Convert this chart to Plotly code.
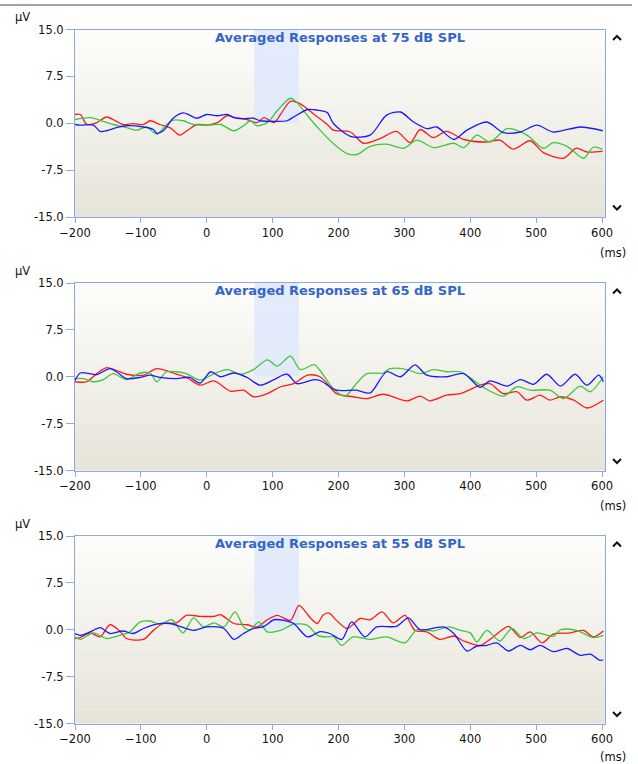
import plotly.graph_objects as go

# ---------------- data (time in ms, amplitude in µV) ----------------
LEVELS = ["75", "65", "55"]
TITLES = ["Averaged Responses at 75 dB SPL", "Averaged Responses at 65 dB SPL", "Averaged Responses at 55 dB SPL"]
X_TICKS = [-200, -100, 0, 100, 200, 300, 400, 500, 600]
Y_TICKS = [15.0, 7.5, 0.0, -7.5, -15.0]
Y_TICK_TEXT = ["15.0", "7.5", "0.0", "-7.5", "-15.0"]
WINDOW = [72, 140]

# 75 dB
T75_BLUE = [-200, -192, -172, -162, -152, -137, -122, -96, -81, -76, -66, -51, -36, -26, -15, 0, 16, 31, 41, 56, 71, 81, 102, 122, 132, 153, 168, 183, 192, 218, 248, 273, 294, 314, 334, 349, 375, 395, 425, 450, 476, 501, 526, 567, 601]
V75_BLUE = [-0.2, -0.3, -0.3, -1.3, -1.2, -0.7, -0.4, -0.6, -1.0, -1.6, -1.2, 0.8, 1.65, 1.3, 0.8, 1.4, 1.2, 1.4, 0.9, 0.75, 0.8, 0.4, 0.3, 0.4, 1.0, 2.2, 2.1, 1.7, 0.0, -2.1, -1.9, 1.3, 1.8, 0.2, -0.85, -0.6, -2.6, -1.1, 0.2, -1.5, -1.4, -0.3, -1.4, -0.6, -1.2]
T75_RED = [-200, -192, -182, -167, -152, -137, -127, -112, -96, -86, -71, -56, -41, -30, -15, 0, 16, 31, 46, 61, 76, 87, 102, 112, 127, 142, 163, 183, 192, 218, 238, 263, 288, 309, 324, 344, 364, 390, 425, 445, 465, 491, 511, 541, 561, 577, 601]
V75_RED = [1.4, 1.4, -0.2, 0.1, 1.0, 0.3, -0.2, -0.05, -0.2, 0.4, -0.2, -0.7, -1.9, -1.2, -0.2, -0.3, 0.1, 1.2, 0.8, 0.6, 0.1, 0.9, 0.1, 1.4, 3.5, 3.1, 1.4, -0.2, -1.1, -1.4, -3.2, -2.45, -1.3, -3.1, -1.0, -2.3, -1.3, -2.6, -3.0, -2.7, -4.15, -2.8, -4.7, -5.6, -4.0, -4.6, -4.5]
T75_GREEN = [-200, -177, -157, -142, -122, -106, -91, -76, -61, -51, -36, -20, 0, 21, 41, 56, 66, 76, 92, 107, 127, 137, 153, 172, 192, 213, 228, 248, 273, 299, 319, 344, 375, 390, 410, 430, 456, 486, 511, 526, 547, 572, 587, 601]
V75_GREEN = [0.6, 0.9, 0.3, -0.2, -0.7, -1.1, -0.6, -1.75, -0.2, 0.5, 0.4, -0.2, -0.3, -0.2, -1.2, -0.4, 0.4, -0.4, 0.1, 2.0, 4.0, 3.3, 1.2, -1.1, -3.25, -4.85, -5.0, -3.7, -3.35, -4.0, -2.7, -3.9, -3.2, -3.9, -1.9, -3.0, -0.85, -1.9, -4.0, -3.1, -3.7, -5.6, -3.8, -4.2]

# 65 dB
T65_BLUE = [-200, -192, -177, -167, -147, -137, -122, -101, -86, -71, -46, -26, -10, 6, 21, 41, 61, 81, 102, 122, 137, 163, 172, 197, 227, 248, 273, 294, 316, 334, 364, 390, 415, 430, 456, 476, 496, 516, 537, 559, 577, 595, 602]
V65_BLUE = [-0.6, 0.6, 0.5, 0.35, 1.3, 0.8, -0.3, -0.1, 0.25, -0.1, -0.3, -0.1, -1.0, 0.8, 0.0, 0.6, -0.1, -1.35, -0.45, 0.4, -1.1, -0.45, -0.6, -2.15, -2.15, -2.6, 0.8, 0.0, 1.9, 0.25, 0.0, 0.5, -1.7, -0.65, -1.5, -0.45, -1.2, 0.4, -1.5, 0.4, -1.35, 0.25, -0.8]
T65_RED = [-200, -182, -167, -152, -137, -122, -96, -76, -51, -31, -10, 11, 36, 56, 71, 92, 112, 132, 153, 172, 197, 222, 243, 268, 304, 324, 339, 364, 385, 415, 430, 450, 471, 486, 506, 521, 537, 557, 577, 602]
V65_RED = [-0.8, -0.8, 0.5, 1.45, 1.0, 0.4, 0.25, 1.3, 0.6, -0.1, -1.35, -0.65, -2.3, -2.15, -3.2, -2.7, -1.6, -1.1, 0.25, 0.0, -2.7, -3.2, -3.5, -2.8, -3.85, -3.1, -3.85, -2.95, -2.7, -1.35, -1.1, -2.7, -2.4, -3.75, -2.95, -3.75, -3.2, -3.75, -5.0, -3.75]
T65_GREEN = [-200, -187, -172, -157, -142, -122, -101, -86, -76, -61, -46, -31, -10, 11, 31, 51, 71, 92, 107, 127, 142, 163, 172, 192, 210, 227, 243, 268, 278, 304, 324, 344, 364, 385, 405, 420, 450, 471, 491, 521, 541, 567, 582, 602]
V65_GREEN = [-0.3, -0.3, -0.8, -0.45, 0.5, -0.45, 0.6, 0.6, -0.8, 0.8, 0.8, 0.5, -0.55, 0.5, 1.15, 0.4, 1.15, 2.7, 1.7, 3.3, 1.15, 1.95, 1.0, -1.9, -3.1, -1.1, 0.5, 0.6, 1.3, 1.15, 0.5, 1.15, 0.8, 0.8, -0.55, -1.7, -3.1, -1.6, -2.15, -2.15, -3.5, -1.5, -2.4, 0.0]

# 55 dB
T55_BLUE = [-200, -192, -177, -162, -147, -127, -112, -96, -76, -56, -41, -20, 0, 26, 41, 56, 71, 87, 102, 117, 132, 153, 172, 187, 205, 220, 240, 258, 288, 306, 324, 359, 375, 395, 410, 425, 440, 458, 476, 491, 506, 526, 547, 567, 582, 597, 602]
V55_BLUE = [-0.6, -0.9, -0.35, 0.35, -0.6, -0.2, -0.6, 0.2, 0.9, 1.0, 0.55, -0.1, 0.45, 0.2, -1.55, -0.6, 0.2, 0.55, 1.6, 1.5, 1.0, -1.15, -0.3, -0.6, -1.55, 1.25, -1.15, 0.45, 0.55, 1.9, 0.0, 0.45, -0.6, -3.4, -2.6, -2.5, -2.1, -3.4, -2.5, -3.2, -2.5, -3.5, -3.0, -4.1, -3.9, -4.9, -4.8]
T55_RED = [-200, -192, -177, -162, -147, -132, -122, -96, -81, -66, -46, -31, -10, 11, 21, 41, 61, 76, 92, 107, 127, 140, 158, 168, 176, 185, 197, 213, 233, 248, 266, 283, 301, 316, 334, 354, 375, 390, 415, 435, 458, 476, 491, 509, 526, 552, 572, 587, 602]
V55_RED = [-1.4, -1.25, -0.5, -1.15, 0.8, -0.2, -1.4, -1.55, -0.1, 1.0, 1.1, 2.3, 2.15, 2.15, 2.4, 1.0, 0.8, 0.45, 1.6, 2.3, 1.5, 3.9, 1.8, 1.0, 2.3, 2.7, 1.5, 0.2, 1.8, 1.6, 2.85, 1.1, 2.3, -0.1, -0.35, -1.55, -1.0, -1.8, -2.5, -1.15, 0.55, -1.25, -0.35, -2.1, -0.7, -0.5, -0.1, -1.15, -0.2]
T55_GREEN = [-200, -192, -172, -152, -132, -117, -101, -86, -71, -53, -36, -20, -5, 11, 26, 43, 56, 66, 79, 92, 112, 132, 153, 168, 183, 192, 205, 222, 248, 273, 301, 319, 344, 367, 385, 400, 410, 425, 445, 463, 481, 501, 526, 537, 561, 587, 602]
V55_GREEN = [-1.15, -1.55, -0.5, -1.4, -0.9, -0.35, 1.25, 1.4, 0.9, 1.6, -0.5, 1.9, 0.45, 1.1, 0.45, 2.85, 0.45, 0.0, 1.25, -0.35, -0.1, 0.9, 0.7, -0.9, -1.15, -1.05, -2.5, -1.15, -1.55, -1.15, -2.1, 0.0, -0.2, 0.45, -0.1, -0.5, -1.95, -0.1, -1.8, 0.2, -1.4, -0.5, -1.05, 0.0, -0.1, -1.25, -0.9]

SERIES = {
    "75": [(T75_RED, V75_RED, "red"), (T75_GREEN, V75_GREEN, "green"), (T75_BLUE, V75_BLUE, "blue")],
    "65": [(T65_RED, V65_RED, "red"), (T65_GREEN, V65_GREEN, "green"), (T65_BLUE, V65_BLUE, "blue")],
    "55": [(T55_RED, V55_RED, "red"), (T55_GREEN, V55_GREEN, "green"), (T55_BLUE, V55_BLUE, "blue")],
}
COLORS = {"red": "#ff1a1a", "green": "#3cc83c", "blue": "#1a1aff"}

# ---------------- layout geometry ----------------
W, H = 638, 764
X0, X1 = 75, 605
PANEL_TOPS = [29.5, 283, 536]
PANEL_H = 187.5
MS_OFFSETS = [36, 35, 33]
AXIS_COLOR = "#8ea6ea"

fig = go.Figure()
shapes = []
annotations = []

def hexmix(c1, c2, f):
    a = [int(c1[i:i + 2], 16) for i in (1, 3, 5)]
    b = [int(c2[i:i + 2], 16) for i in (1, 3, 5)]
    return "#" + "".join(f"{round(a[j] + (b[j] - a[j]) * f):02x}" for j in range(3))

TOP_C, BOT_C = "#fdfdfb", "#e6e4d8"
NB = 40

def px(x):
    return x / W

def py(y):
    return 1 - y / H

for i, lvl in enumerate(LEVELS):
    n = "" if i == 0 else str(i + 1)
    top = PANEL_TOPS[i]
    bot = top + PANEL_H
    dom_y = [1 - bot / H, 1 - top / H]
    fig.update_layout(**{
        f"xaxis{n}": dict(
            domain=[X0 / W, X1 / W], range=[-200, 604.5], anchor=f"y{n}",
            tickvals=X_TICKS, ticks="outside", ticklen=5, tickcolor=AXIS_COLOR,
            showline=True, mirror=True, linecolor=AXIS_COLOR, linewidth=1,
            showgrid=False, zeroline=False, automargin=False,
            tickfont=dict(family="DejaVu Sans", size=11.5, color="#111"),
        ),
        f"yaxis{n}": dict(
            domain=dom_y, range=[-15, 15], anchor=f"x{n}",
            tickvals=Y_TICKS, ticktext=Y_TICK_TEXT, ticks="outside", ticklen=8,
            tickcolor=AXIS_COLOR, showline=True, mirror=True, linecolor=AXIS_COLOR,
            linewidth=1, showgrid=False, zeroline=False, automargin=False,
            tickfont=dict(family="DejaVu Sans", size=11.5, color="#111"),
        ),
    })
    # gradient background
    for k in range(NB):
        shapes.append(dict(type="rect", xref=f"x{n} domain", yref=f"y{n} domain",
                           x0=0, x1=1, y0=k / NB, y1=(k + 1) / NB + 0.002,
                           fillcolor=hexmix(BOT_C, TOP_C, (k + 0.5) / NB),
                           line=dict(width=0), layer="below"))
    # analysis window highlight
    shapes.append(dict(type="rect", xref=f"x{n}", yref=f"y{n}",
                       x0=WINDOW[0], x1=WINDOW[1], y0=0, y1=15,
                       fillcolor="#dfe7fb", opacity=0.85, line=dict(width=0), layer="below"))
    for t, v, c in SERIES[lvl]:
        fig.add_trace(go.Scatter(x=t, y=v, mode="lines", xaxis=f"x{n}", yaxis=f"y{n}",
                                 line=dict(color=COLORS[c], width=1.3, shape="spline", smoothing=0.8),
                                 showlegend=False, hoverinfo="skip"))
    annotations.append(dict(text=f"<b>{TITLES[i]}</b>", xref=f"x{n} domain", yref=f"y{n} domain",
                            x=0.5, y=1, yanchor="top", yshift=2, showarrow=False,
                            font=dict(family="DejaVu Sans", size=13, color="#3466c8")))
    annotations.append(dict(text="µV", xref="paper", yref="paper", x=px(22), y=py(top - 12),
                            xanchor="center", yanchor="middle",
                            showarrow=False, font=dict(family="DejaVu Sans", size=11.5, color="#111")))
    annotations.append(dict(text="(ms)", xref="paper", yref="paper", x=px(613), y=py(bot + MS_OFFSETS[i]),
                            xanchor="center", yanchor="middle",
                            showarrow=False, font=dict(family="DejaVu Sans", size=11.5, color="#111")))
    # chevrons
    cx = 617
    uy = top + 8
    dy = bot - 9
    shapes.append(dict(type="path", xref="paper", yref="paper",
                       path=f"M {px(cx-4)} {py(uy+2.5)} L {px(cx)} {py(uy-1.5)} L {px(cx+4)} {py(uy+2.5)}",
                       line=dict(color="#111", width=2)))
    shapes.append(dict(type="path", xref="paper", yref="paper",
                       path=f"M {px(cx-4)} {py(dy-2.5)} L {px(cx)} {py(dy+1.5)} L {px(cx+4)} {py(dy-2.5)}",
                       line=dict(color="#111", width=2)))

# top gray rule
shapes.append(dict(type="line", xref="paper", yref="paper", x0=0, x1=px(632),
                   y0=py(5), y1=py(5), line=dict(color="#a3a3a3", width=2)))

fig.update_layout(width=W, height=H, margin=dict(l=0, r=0, t=0, b=0, pad=0, autoexpand=False),
                  paper_bgcolor="white", plot_bgcolor="rgba(0,0,0,0)",
                  shapes=shapes, annotations=annotations, showlegend=False)

fig.write_html("out.html", config={"displayModeBar": False},
               post_script="document.body.style.margin='0';")
